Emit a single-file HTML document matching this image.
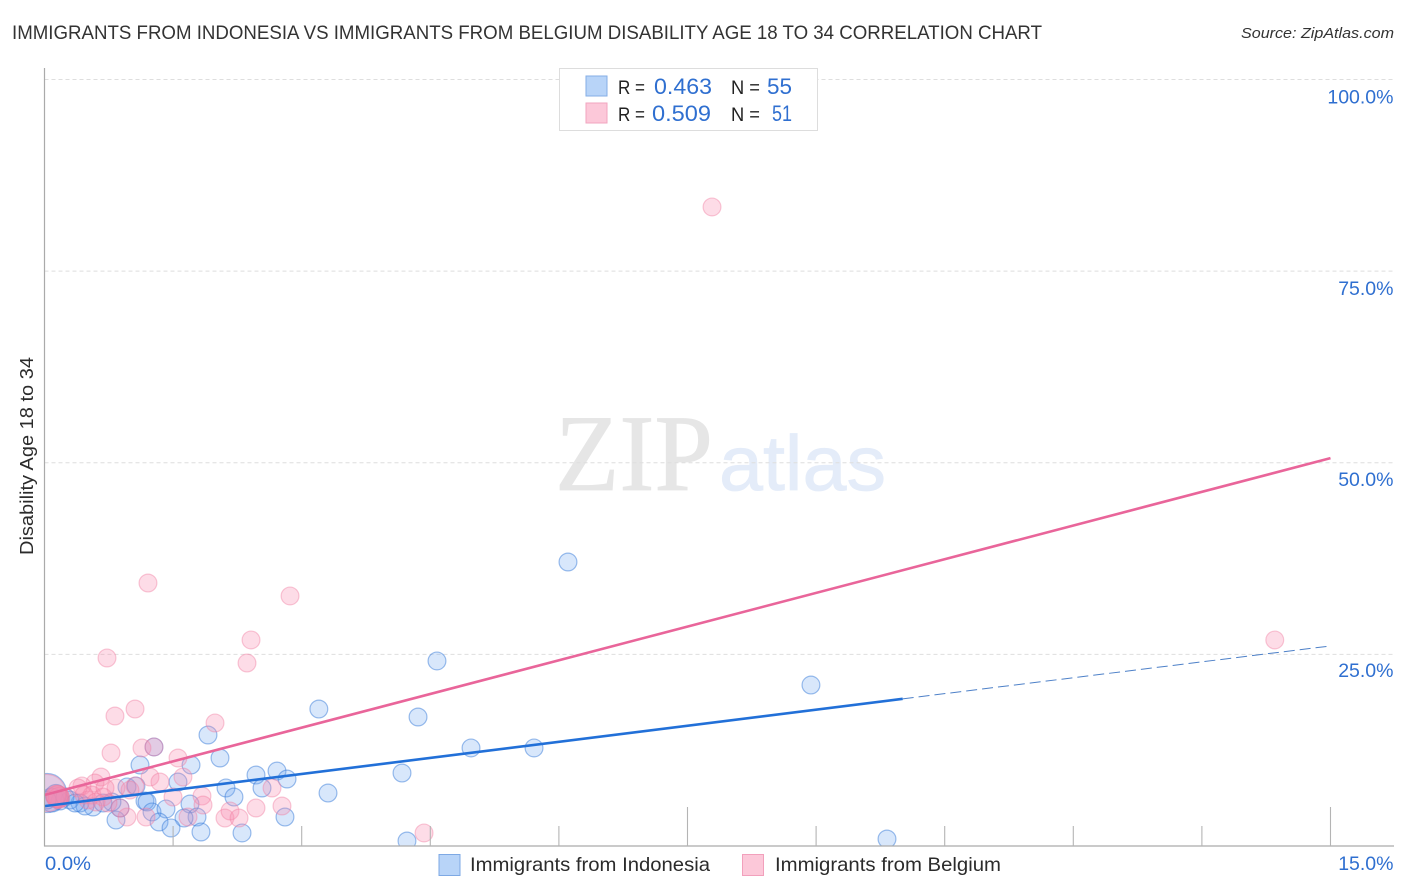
<!DOCTYPE html>
<html lang="en">
<head>
<meta charset="utf-8">
<title>Immigrants from Indonesia vs Immigrants from Belgium Disability Age 18 to 34 Correlation Chart</title>
<style>
html,body{margin:0;padding:0;background:#fff;}
svg{display:block;font-family:"Liberation Sans",sans-serif;}
</style>
</head>
<body>
<svg id="chart" xmlns="http://www.w3.org/2000/svg" width="1406" height="892" viewBox="0 0 1406 892">
  <defs><clipPath id="plot-clip"><rect x="45" y="60" width="1350" height="786"/></clipPath></defs>
  <rect x="0" y="0" width="1406" height="892" fill="#fff"/>
  <text x="12" y="39" font-size="19.5" fill="#333" textLength="1030" lengthAdjust="spacingAndGlyphs">IMMIGRANTS FROM INDONESIA VS IMMIGRANTS FROM BELGIUM DISABILITY AGE 18 TO 34 CORRELATION CHART</text>
  <text x="1241" y="38" font-size="15" font-style="italic" fill="#333" textLength="153" lengthAdjust="spacingAndGlyphs">Source: ZipAtlas.com</text>
  <g>
    <text x="555" y="490" font-family="'Liberation Serif',serif" font-size="109" fill="#e6e6e6" stroke="#e6e6e6" stroke-width="0.8" textLength="158" lengthAdjust="spacingAndGlyphs">ZIP</text>
    <text x="719" y="490" font-size="78" fill="#e4ecf9" stroke="#e4ecf9" stroke-width="0.8" textLength="167" lengthAdjust="spacingAndGlyphs">atlas</text>
  </g>
  <g id="grid"></g>
  <g id="points" clip-path="url(#plot-clip)"></g>
  <rect x="0" y="60" width="44.5" height="790" fill="#fff"/>
  <g id="trends"></g>
  <g id="axes"></g>
  <text transform="translate(33,456) rotate(-90)" text-anchor="middle" font-size="18.5" fill="#2b2b2b" textLength="198" lengthAdjust="spacingAndGlyphs">Disability Age 18 to 34</text>
  <g>
    <rect x="559.5" y="68.5" width="258" height="62" fill="#fff" stroke="#ddd" stroke-width="1"/>
    <rect x="586" y="76" width="21" height="20" fill="#b8d4f8" stroke="#85aee6" stroke-width="1"/>
    <rect x="586" y="103" width="21" height="20" fill="#fcc8d9" stroke="#f2a5bf" stroke-width="1"/>
    <text x="618" y="94" font-size="19" fill="#222" textLength="27" lengthAdjust="spacingAndGlyphs">R =</text>
    <text x="654" y="94" font-size="22" fill="#2f6fd0" textLength="58" lengthAdjust="spacingAndGlyphs">0.463</text>
    <text x="731" y="94" font-size="19" fill="#222" textLength="29" lengthAdjust="spacingAndGlyphs">N =</text>
    <text x="767" y="94" font-size="22" fill="#2f6fd0" textLength="25" lengthAdjust="spacingAndGlyphs">55</text>
    <text x="618" y="121" font-size="19" fill="#222" textLength="27" lengthAdjust="spacingAndGlyphs">R =</text>
    <text x="652" y="121" font-size="22" fill="#2f6fd0" textLength="59" lengthAdjust="spacingAndGlyphs">0.509</text>
    <text x="731" y="121" font-size="19" fill="#222" textLength="29" lengthAdjust="spacingAndGlyphs">N =</text>
    <text x="772" y="121" font-size="22" fill="#2f6fd0" textLength="20" lengthAdjust="spacingAndGlyphs">51</text>
  </g>
  <g>
    <rect x="439" y="854.5" width="21" height="21" fill="#b8d4f8" stroke="#7ea9e4" stroke-width="1"/>
    <text x="470" y="871" font-size="19.5" fill="#2b2b2b" textLength="240" lengthAdjust="spacingAndGlyphs">Immigrants from Indonesia</text>
    <rect x="742.5" y="854.5" width="21" height="21" fill="#fcc8d9" stroke="#f2a0bc" stroke-width="1"/>
    <text x="775" y="871" font-size="19.5" fill="#2b2b2b" textLength="226" lengthAdjust="spacingAndGlyphs">Immigrants from Belgium</text>
  </g>
</svg>
<script>
const yTicks = [100, 75, 50, 25];
const yTickLabels = ["100.0%", "75.0%", "50.0%", "25.0%"];
const xTicks = [1.5, 3, 4.5, 6, 7.5, 9, 10.5, 12, 13.5, 15];
const xEndLabels = ["0.0%", "15.0%"];
const indonesiaX = [6.106,4.578,8.94,3.2,4.357,4.975,5.71,1.277,1.907,2.047,1.709,1.114,4.17,3.307,2.712,2.467,2.829,2.537,2.117,2.21,1.557,0.962,1.067,1.172,1.196,1.697,1.254,1.417,1.779,1.627,1.336,1.476,1.825,2.304,2.805,0.834,4.228,9.827,0.881,0.787,0.566,0.682,0.414,0.297,0.181,0.472,0.03,0.087,0.134,0.239,0.356,0.03];
const indonesiaY = [37.05,24.14,21.0,17.87,16.83,12.79,12.79,12.92,14.48,11.48,10.57,10.57,9.52,6.91,9.78,9.26,8.74,7.57,7.57,6.39,8.35,7.7,7.83,5.87,5.74,5.48,4.44,4.83,3.78,3.65,3.13,2.35,1.83,1.7,3.78,3.39,0.65,0.91,4.96,5.74,5.09,5.61,5.61,6.0,5.87,5.22,6.91,6.0,6.65,6.39,5.61,6.0];
const indonesiaWeight = {46: 4.8, 47: 1.8, 48: 1.4};
const belgiumX = [7.786,14.35,2.864,1.207,2.409,0.729,2.362,1.056,0.822,1.989,0.776,1.137,1.277,1.557,1.615,1.231,1.347,0.659,0.589,0.437,0.391,0.834,1.056,1.499,1.837,1.849,1.184,0.962,0.881,2.654,2.105,2.164,2.269,2.467,2.77,1.674,4.427,0.157,0.14,0.17,0.16,0.507,0.554,0.682,0.741,0.03,0.15,0.706,0.461,0.601,0.997];
const belgiumY = [83.37,26.88,32.62,34.31,26.88,24.53,23.87,17.87,16.96,16.05,12.13,12.79,12.92,11.48,9.0,9.0,8.35,9.0,8.22,7.83,7.57,7.57,7.83,6.39,6.52,5.35,3.78,3.78,4.96,7.57,3.65,4.57,3.65,4.96,5.22,3.78,1.7,6.39,6.5,6.3,6.35,6.0,6.65,6.39,5.61,6.91,6.45,7.57,6.65,5.74,7.3];
const belgiumWeight = {37: 1.6, 38: 1.5, 39: 1.4, 40: 1.2, 45: 4.4, 46: 1.5};
const indonesiaTrendX = [0, 10.01, 15];
const indonesiaTrendY = [5.2, 19.2, 26.1];
const belgiumTrendX = [0, 15];
const belgiumTrendY = [6.65, 50.6];

const NS = "http://www.w3.org/2000/svg";
const xScale = v => 44.5 + v * 85.733;
const yScale = v => 846 - v * 7.665;
function mk(parent, tag, attrs, text) {
  const el = document.createElementNS(NS, tag);
  for (const k in attrs) el.setAttribute(k, attrs[k]);
  if (text !== undefined) el.textContent = text;
  parent.appendChild(el);
  return el;
}
const grid = document.getElementById("grid");
const axes = document.getElementById("axes");
const pts = document.getElementById("points");
const trends = document.getElementById("trends");

yTicks.forEach((t, i) => {
  const line = mk(grid, "line", {x1: 44.5, x2: 1394, y1: yScale(t), y2: yScale(t), stroke: "#dedede", "stroke-width": 1, "stroke-dasharray": "4 3"});
  
  
  const lab = mk(axes, "text", {x: 1393.5, y: yScale(t) + 24.2 - (100 - t) * 0.02, "text-anchor": "end", "font-size": 19.5, fill: "#2f6fd0"}, yTickLabels[i]);
  
  
});

const yAxis = mk(axes, "line", {x1: 44.5, x2: 44.5, y1: 68, y2: 846.5, stroke: "#aaa", "stroke-width": 1.2});


const xAxis = mk(axes, "line", {x1: 44, x2: 1394, y1: 846, y2: 846, stroke: "#aaa", "stroke-width": 1.2});


xTicks.forEach(t => {
  const major = t === 7.5 || t === 15;
  const tick = mk(axes, "line", {x1: xScale(t), x2: xScale(t), y1: major ? 807 : 826, y2: 846, stroke: "#b4b4b4", "stroke-width": 1.1});
  
  
});
const x0Label = mk(axes, "text", {x: 45, y: 870, "font-size": 19.5, fill: "#2f6fd0", textLength: 46, lengthAdjust: "spacingAndGlyphs"}, xEndLabels[0]);


const x1Label = mk(axes, "text", {x: 1393.5, y: 870, "text-anchor": "end", "font-size": 19.5, fill: "#2f6fd0"}, xEndLabels[1]);



const baseR = 8.9;
indonesiaX.forEach((x, i) => {
  const c = mk(pts, "circle", {cx: xScale(x), cy: yScale(indonesiaY[i]), r: baseR * Math.sqrt(indonesiaWeight[i] || 1) , fill: "rgba(110,165,240,0.27)", stroke: "rgba(50,120,215,0.48)", "stroke-width": 1.2});
  
  
});
belgiumX.forEach((x, i) => {
  const c = mk(pts, "circle", {cx: xScale(x), cy: yScale(belgiumY[i]), r: baseR * Math.sqrt(belgiumWeight[i] || 1), fill: "rgba(248,140,175,0.3)", stroke: "rgba(240,125,160,0.42)", "stroke-width": 1.2});
  
  
});

const blueSolid = mk(trends, "line", {x1: xScale(indonesiaTrendX[0]), y1: yScale(indonesiaTrendY[0]), x2: xScale(indonesiaTrendX[1]), y2: yScale(indonesiaTrendY[1]), stroke: "#2270d8", "stroke-width": 2.6});


const blueDash = mk(trends, "line", {x1: xScale(indonesiaTrendX[1]), y1: yScale(indonesiaTrendY[1]), x2: xScale(indonesiaTrendX[2]), y2: yScale(indonesiaTrendY[2]), stroke: "#4d80c8", "stroke-width": 1, "stroke-dasharray": "11 5"});


const pinkLine = mk(trends, "line", {x1: xScale(belgiumTrendX[0]), y1: yScale(belgiumTrendY[0]), x2: xScale(belgiumTrendX[1]), y2: yScale(belgiumTrendY[1]), stroke: "#e9659a", "stroke-width": 2.6});


</script>
</body>
</html>
